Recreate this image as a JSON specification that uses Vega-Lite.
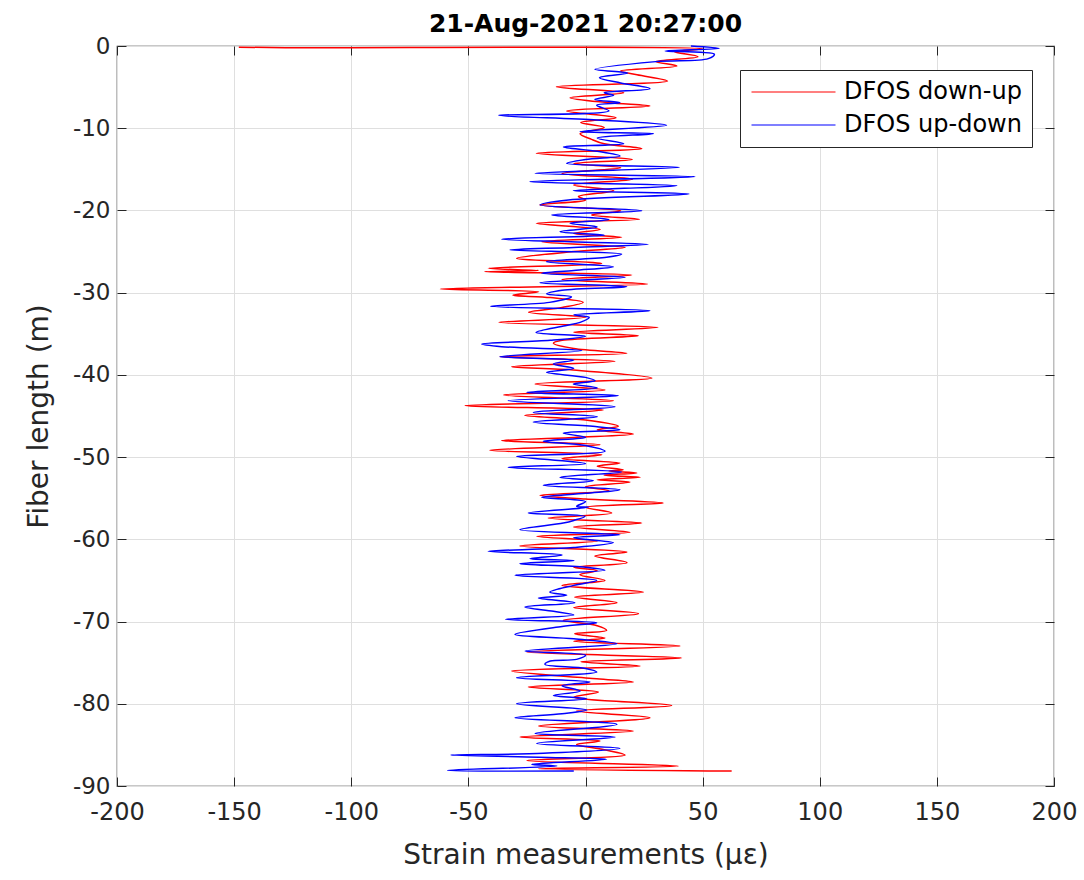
{
"$schema": "https://vega.github.io/schema/vega-lite/v6.json",
"width": 937, "height": 740,
"autosize": {"type": "none"},
"padding": {"left": 117, "top": 46, "right": 30, "bottom": 94},
"background": "white",
"title": {"text": "21-Aug-2021 20:27:00", "font": "DejaVu Sans", "fontSize": 25, "fontWeight": "bold", "color": "#000000", "offset": -2, "anchor": "middle"},
"config": {
  "view": {"stroke": "#262626", "strokeWidth": 1.2},
  "axis": {"labelFont": "DejaVu Sans", "labelFontSize": 24, "labelColor": "#262626", "titleFont": "DejaVu Sans", "titleFontSize": 28, "titleFontWeight": "normal", "titleColor": "#262626", "tickColor": "#262626", "gridColor": "#dfdfdf", "gridWidth": 1, "labelExpr": "'' + datum.value", "labelFlush": false, "labelOverlap": false}
},
"data": {"values": [
{"series":"DFOS down-up","i":0,"len":-0.15,"strain":-148},
{"series":"DFOS down-up","i":1,"len":-0.2,"strain":-128},
{"series":"DFOS down-up","i":2,"len":-0.35,"strain":50},
{"series":"DFOS down-up","i":3,"len":-0.7,"strain":38},
{"series":"DFOS down-up","i":4,"len":-1.3,"strain":48},
{"series":"DFOS down-up","i":5,"len":-1.9,"strain":30},
{"series":"DFOS down-up","i":6,"len":-2.43,"strain":39},
{"series":"DFOS down-up","i":7,"len":-3.04,"strain":15},
{"series":"DFOS down-up","i":8,"len":-3.5,"strain":22},
{"series":"DFOS down-up","i":9,"len":-4.26,"strain":35},
{"series":"DFOS down-up","i":10,"len":-4.95,"strain":-12.4},
{"series":"DFOS down-up","i":11,"len":-5.68,"strain":16.3},
{"series":"DFOS down-up","i":12,"len":-6.29,"strain":-6.6},
{"series":"DFOS down-up","i":13,"len":-6.9,"strain":10},
{"series":"DFOS down-up","i":14,"len":-7.3,"strain":27.5},
{"series":"DFOS down-up","i":15,"len":-7.91,"strain":-8},
{"series":"DFOS down-up","i":16,"len":-8.72,"strain":13},
{"series":"DFOS down-up","i":17,"len":-9.3,"strain":-2},
{"series":"DFOS down-up","i":18,"len":-9.9,"strain":8},
{"series":"DFOS down-up","i":19,"len":-10.66,"strain":-2.3},
{"series":"DFOS down-up","i":20,"len":-11.35,"strain":2.6},
{"series":"DFOS down-up","i":21,"len":-11.9,"strain":8},
{"series":"DFOS down-up","i":22,"len":-12.48,"strain":24},
{"series":"DFOS down-up","i":23,"len":-13.05,"strain":-21},
{"series":"DFOS down-up","i":24,"len":-13.79,"strain":20},
{"series":"DFOS down-up","i":25,"len":-14.3,"strain":-5},
{"series":"DFOS down-up","i":26,"len":-14.8,"strain":15},
{"series":"DFOS down-up","i":27,"len":-15.5,"strain":-10},
{"series":"DFOS down-up","i":28,"len":-16.2,"strain":20},
{"series":"DFOS down-up","i":29,"len":-16.9,"strain":-5},
{"series":"DFOS down-up","i":30,"len":-17.6,"strain":12},
{"series":"DFOS down-up","i":31,"len":-18.3,"strain":-3},
{"series":"DFOS down-up","i":32,"len":-18.73,"strain":0},
{"series":"DFOS down-up","i":33,"len":-19.34,"strain":-19.4},
{"series":"DFOS down-up","i":34,"len":-20.03,"strain":15},
{"series":"DFOS down-up","i":35,"len":-20.55,"strain":2.6},
{"series":"DFOS down-up","i":36,"len":-21.08,"strain":23},
{"series":"DFOS down-up","i":37,"len":-21.57,"strain":-21},
{"series":"DFOS down-up","i":38,"len":-22.3,"strain":6.3},
{"series":"DFOS down-up","i":39,"len":-22.8,"strain":-5},
{"series":"DFOS down-up","i":40,"len":-23.27,"strain":15.4},
{"series":"DFOS down-up","i":41,"len":-23.8,"strain":-18.6},
{"series":"DFOS down-up","i":42,"len":-24.49,"strain":16.9},
{"series":"DFOS down-up","i":43,"len":-25.0,"strain":-5},
{"series":"DFOS down-up","i":44,"len":-25.83,"strain":-29.4},
{"series":"DFOS down-up","i":45,"len":-26.44,"strain":6.9},
{"series":"DFOS down-up","i":46,"len":-27.04,"strain":-41.5},
{"series":"DFOS down-up","i":47,"len":-27.3,"strain":-20},
{"series":"DFOS down-up","i":48,"len":-27.45,"strain":-43},
{"series":"DFOS down-up","i":49,"len":-27.85,"strain":19.7},
{"series":"DFOS down-up","i":50,"len":-28.4,"strain":-10},
{"series":"DFOS down-up","i":51,"len":-28.95,"strain":26.5},
{"series":"DFOS down-up","i":52,"len":-29.55,"strain":-62},
{"series":"DFOS down-up","i":53,"len":-29.9,"strain":-20},
{"series":"DFOS down-up","i":54,"len":-30.3,"strain":-31},
{"series":"DFOS down-up","i":55,"len":-30.6,"strain":-15},
{"series":"DFOS down-up","i":56,"len":-31.18,"strain":-1},
{"series":"DFOS down-up","i":57,"len":-31.8,"strain":-10},
{"series":"DFOS down-up","i":58,"len":-32.39,"strain":-24.3},
{"series":"DFOS down-up","i":59,"len":-33.0,"strain":0},
{"series":"DFOS down-up","i":60,"len":-33.61,"strain":-37},
{"series":"DFOS down-up","i":61,"len":-34.22,"strain":31},
{"series":"DFOS down-up","i":62,"len":-34.8,"strain":-5},
{"series":"DFOS down-up","i":63,"len":-35.23,"strain":22.6},
{"series":"DFOS down-up","i":64,"len":-35.8,"strain":-10},
{"series":"DFOS down-up","i":65,"len":-36.16,"strain":-13.7},
{"series":"DFOS down-up","i":66,"len":-36.8,"strain":-5},
{"series":"DFOS down-up","i":67,"len":-37.38,"strain":17.6},
{"series":"DFOS down-up","i":68,"len":-37.79,"strain":-36.5},
{"series":"DFOS down-up","i":69,"len":-38.35,"strain":12.6},
{"series":"DFOS down-up","i":70,"len":-39.01,"strain":-31.5},
{"series":"DFOS down-up","i":71,"len":-39.41,"strain":-5.2},
{"series":"DFOS down-up","i":72,"len":-40.38,"strain":28.3},
{"series":"DFOS down-up","i":73,"len":-41.11,"strain":-21.5},
{"series":"DFOS down-up","i":74,"len":-41.84,"strain":8.3},
{"series":"DFOS down-up","i":75,"len":-42.45,"strain":-35},
{"series":"DFOS down-up","i":76,"len":-43.14,"strain":11.9},
{"series":"DFOS down-up","i":77,"len":-43.75,"strain":-51.4},
{"series":"DFOS down-up","i":78,"len":-44.27,"strain":7.6},
{"series":"DFOS down-up","i":79,"len":-44.92,"strain":-25.9},
{"series":"DFOS down-up","i":80,"len":-45.5,"strain":0},
{"series":"DFOS down-up","i":81,"len":-46.26,"strain":14},
{"series":"DFOS down-up","i":82,"len":-46.7,"strain":5},
{"series":"DFOS down-up","i":83,"len":-47.19,"strain":20.4},
{"series":"DFOS down-up","i":84,"len":-47.6,"strain":-5},
{"series":"DFOS down-up","i":85,"len":-48.0,"strain":-35.8},
{"series":"DFOS down-up","i":86,"len":-48.49,"strain":6.2},
{"series":"DFOS down-up","i":87,"len":-49.18,"strain":-40.8},
{"series":"DFOS down-up","i":88,"len":-49.7,"strain":6.9},
{"series":"DFOS down-up","i":89,"len":-50.2,"strain":-10},
{"series":"DFOS down-up","i":90,"len":-50.72,"strain":14.7},
{"series":"DFOS down-up","i":91,"len":-51.1,"strain":5},
{"series":"DFOS down-up","i":92,"len":-51.53,"strain":16.1},
{"series":"DFOS down-up","i":93,"len":-51.7,"strain":10},
{"series":"DFOS down-up","i":94,"len":-51.93,"strain":21.9},
{"series":"DFOS down-up","i":95,"len":-52.2,"strain":8},
{"series":"DFOS down-up","i":96,"len":-52.46,"strain":23.3},
{"series":"DFOS down-up","i":97,"len":-52.75,"strain":5},
{"series":"DFOS down-up","i":98,"len":-53.03,"strain":19},
{"series":"DFOS down-up","i":99,"len":-53.6,"strain":0},
{"series":"DFOS down-up","i":100,"len":-54.1,"strain":10},
{"series":"DFOS down-up","i":101,"len":-54.65,"strain":-19.4},
{"series":"DFOS down-up","i":102,"len":-55.1,"strain":0},
{"series":"DFOS down-up","i":103,"len":-55.58,"strain":33.2},
{"series":"DFOS down-up","i":104,"len":-56.1,"strain":0},
{"series":"DFOS down-up","i":105,"len":-56.8,"strain":11.2},
{"series":"DFOS down-up","i":106,"len":-57.41,"strain":-15.9},
{"series":"DFOS down-up","i":107,"len":-58.02,"strain":24},
{"series":"DFOS down-up","i":108,"len":-58.5,"strain":-5},
{"series":"DFOS down-up","i":109,"len":-59.15,"strain":19},
{"series":"DFOS down-up","i":110,"len":-59.64,"strain":-20.8},
{"series":"DFOS down-up","i":111,"len":-60.2,"strain":5},
{"series":"DFOS down-up","i":112,"len":-60.81,"strain":-28},
{"series":"DFOS down-up","i":113,"len":-61.54,"strain":17.7},
{"series":"DFOS down-up","i":114,"len":-62.03,"strain":4},
{"series":"DFOS down-up","i":115,"len":-62.84,"strain":17.7},
{"series":"DFOS down-up","i":116,"len":-63.4,"strain":-5},
{"series":"DFOS down-up","i":117,"len":-63.8,"strain":5},
{"series":"DFOS down-up","i":118,"len":-64.3,"strain":-2.4},
{"series":"DFOS down-up","i":119,"len":-64.99,"strain":8.3},
{"series":"DFOS down-up","i":120,"len":-65.6,"strain":-10},
{"series":"DFOS down-up","i":121,"len":-66.42,"strain":24.7},
{"series":"DFOS down-up","i":122,"len":-67.02,"strain":-4.6},
{"series":"DFOS down-up","i":123,"len":-67.7,"strain":13.4},
{"series":"DFOS down-up","i":124,"len":-68.3,"strain":-5},
{"series":"DFOS down-up","i":125,"len":-69.04,"strain":22.6},
{"series":"DFOS down-up","i":126,"len":-69.85,"strain":-9.5},
{"series":"DFOS down-up","i":127,"len":-70.5,"strain":5},
{"series":"DFOS down-up","i":128,"len":-71.07,"strain":9},
{"series":"DFOS down-up","i":129,"len":-71.48,"strain":-4.6},
{"series":"DFOS down-up","i":130,"len":-72.01,"strain":8.3},
{"series":"DFOS down-up","i":131,"len":-72.4,"strain":-5},
{"series":"DFOS down-up","i":132,"len":-72.98,"strain":40.3},
{"series":"DFOS down-up","i":133,"len":-73.71,"strain":-25},
{"series":"DFOS down-up","i":134,"len":-74.42,"strain":41},
{"series":"DFOS down-up","i":135,"len":-74.9,"strain":-2},
{"series":"DFOS down-up","i":136,"len":-75.41,"strain":23.3},
{"series":"DFOS down-up","i":137,"len":-76.02,"strain":-31.5},
{"series":"DFOS down-up","i":138,"len":-76.95,"strain":4.8},
{"series":"DFOS down-up","i":139,"len":-77.36,"strain":20.4},
{"series":"DFOS down-up","i":140,"len":-77.96,"strain":-24.4},
{"series":"DFOS down-up","i":141,"len":-78.57,"strain":5.5},
{"series":"DFOS down-up","i":142,"len":-79.2,"strain":-5},
{"series":"DFOS down-up","i":143,"len":-80.2,"strain":36.8},
{"series":"DFOS down-up","i":144,"len":-80.89,"strain":-3.8},
{"series":"DFOS down-up","i":145,"len":-81.7,"strain":27.5},
{"series":"DFOS down-up","i":146,"len":-82.71,"strain":-20},
{"series":"DFOS down-up","i":147,"len":-83.32,"strain":20.4},
{"series":"DFOS down-up","i":148,"len":-84.05,"strain":-28},
{"series":"DFOS down-up","i":149,"len":-84.53,"strain":6.2},
{"series":"DFOS down-up","i":150,"len":-84.94,"strain":-3.8},
{"series":"DFOS down-up","i":151,"len":-85.6,"strain":8},
{"series":"DFOS down-up","i":152,"len":-86.24,"strain":16.9},
{"series":"DFOS down-up","i":153,"len":-86.89,"strain":-25},
{"series":"DFOS down-up","i":154,"len":-87.57,"strain":39.6},
{"series":"DFOS down-up","i":155,"len":-87.9,"strain":-20},
{"series":"DFOS down-up","i":156,"len":-88.18,"strain":62.4},
{"series":"DFOS up-down","i":0,"len":0.0,"strain":45},
{"series":"DFOS up-down","i":1,"len":-0.3,"strain":57},
{"series":"DFOS up-down","i":2,"len":-0.6,"strain":34},
{"series":"DFOS up-down","i":3,"len":-1.0,"strain":55},
{"series":"DFOS up-down","i":4,"len":-1.54,"strain":52.4},
{"series":"DFOS up-down","i":5,"len":-1.9,"strain":30},
{"series":"DFOS up-down","i":6,"len":-2.84,"strain":4},
{"series":"DFOS up-down","i":7,"len":-3.3,"strain":18},
{"series":"DFOS up-down","i":8,"len":-3.85,"strain":6},
{"series":"DFOS up-down","i":9,"len":-4.5,"strain":15},
{"series":"DFOS up-down","i":10,"len":-5.19,"strain":27.5},
{"series":"DFOS up-down","i":11,"len":-5.68,"strain":8},
{"series":"DFOS up-down","i":12,"len":-6.0,"strain":12},
{"series":"DFOS up-down","i":13,"len":-6.5,"strain":4},
{"series":"DFOS up-down","i":14,"len":-6.89,"strain":14.7},
{"series":"DFOS up-down","i":15,"len":-7.2,"strain":4.8},
{"series":"DFOS up-down","i":16,"len":-7.9,"strain":10},
{"series":"DFOS up-down","i":17,"len":-8.43,"strain":-37},
{"series":"DFOS up-down","i":18,"len":-9.0,"strain":5},
{"series":"DFOS up-down","i":19,"len":-9.65,"strain":34.6},
{"series":"DFOS up-down","i":20,"len":-10.42,"strain":-2.3},
{"series":"DFOS up-down","i":21,"len":-10.66,"strain":29},
{"series":"DFOS up-down","i":22,"len":-11.2,"strain":5},
{"series":"DFOS up-down","i":23,"len":-11.88,"strain":16.3},
{"series":"DFOS up-down","i":24,"len":-12.28,"strain":-9.4},
{"series":"DFOS up-down","i":25,"len":-12.8,"strain":5},
{"series":"DFOS up-down","i":26,"len":-13.38,"strain":14.7},
{"series":"DFOS up-down","i":27,"len":-13.8,"strain":0},
{"series":"DFOS up-down","i":28,"len":-14.27,"strain":-8},
{"series":"DFOS up-down","i":29,"len":-14.76,"strain":40},
{"series":"DFOS up-down","i":30,"len":-15.49,"strain":-21.5},
{"series":"DFOS up-down","i":31,"len":-15.89,"strain":46.7},
{"series":"DFOS up-down","i":32,"len":-16.5,"strain":-23.7},
{"series":"DFOS up-down","i":33,"len":-16.99,"strain":39},
{"series":"DFOS up-down","i":34,"len":-17.6,"strain":-5.2},
{"series":"DFOS up-down","i":35,"len":-18.0,"strain":44.2},
{"series":"DFOS up-down","i":36,"len":-18.73,"strain":-7.3},
{"series":"DFOS up-down","i":37,"len":-19.34,"strain":-19.4},
{"series":"DFOS up-down","i":38,"len":-20.03,"strain":24},
{"series":"DFOS up-down","i":39,"len":-20.55,"strain":-14.4},
{"series":"DFOS up-down","i":40,"len":-21.1,"strain":10},
{"series":"DFOS up-down","i":41,"len":-21.57,"strain":-6.6},
{"series":"DFOS up-down","i":42,"len":-22.0,"strain":5},
{"series":"DFOS up-down","i":43,"len":-22.58,"strain":-10.9},
{"series":"DFOS up-down","i":44,"len":-23.0,"strain":8},
{"series":"DFOS up-down","i":45,"len":-23.51,"strain":-35.8},
{"series":"DFOS up-down","i":46,"len":-24.12,"strain":26.8},
{"series":"DFOS up-down","i":47,"len":-24.5,"strain":-5},
{"series":"DFOS up-down","i":48,"len":-24.81,"strain":-32.2},
{"series":"DFOS up-down","i":49,"len":-25.3,"strain":15.4},
{"series":"DFOS up-down","i":50,"len":-25.7,"strain":9},
{"series":"DFOS up-down","i":51,"len":-26.23,"strain":-16.6},
{"series":"DFOS up-down","i":52,"len":-26.84,"strain":11.9},
{"series":"DFOS up-down","i":53,"len":-27.3,"strain":-5},
{"series":"DFOS up-down","i":54,"len":-27.65,"strain":-18.7},
{"series":"DFOS up-down","i":55,"len":-28.13,"strain":16.9},
{"series":"DFOS up-down","i":56,"len":-28.78,"strain":-19.4},
{"series":"DFOS up-down","i":57,"len":-29.27,"strain":17.6},
{"series":"DFOS up-down","i":58,"len":-29.7,"strain":-10},
{"series":"DFOS up-down","i":59,"len":-30.16,"strain":-16.6},
{"series":"DFOS up-down","i":60,"len":-30.5,"strain":-6},
{"series":"DFOS up-down","i":61,"len":-31.18,"strain":-15.4},
{"series":"DFOS up-down","i":62,"len":-31.66,"strain":-40.5},
{"series":"DFOS up-down","i":63,"len":-32.19,"strain":27.5},
{"series":"DFOS up-down","i":64,"len":-32.7,"strain":-5},
{"series":"DFOS up-down","i":65,"len":-33.0,"strain":1.6},
{"series":"DFOS up-down","i":66,"len":-33.61,"strain":-2.3},
{"series":"DFOS up-down","i":67,"len":-34.02,"strain":-8.7},
{"series":"DFOS up-down","i":68,"len":-34.83,"strain":-21.1},
{"series":"DFOS up-down","i":69,"len":-35.3,"strain":0},
{"series":"DFOS up-down","i":70,"len":-35.8,"strain":-15},
{"series":"DFOS up-down","i":71,"len":-36.24,"strain":-44.3},
{"series":"DFOS up-down","i":72,"len":-36.57,"strain":-35.8},
{"series":"DFOS up-down","i":73,"len":-37.05,"strain":-1.6},
{"series":"DFOS up-down","i":74,"len":-37.79,"strain":-36.5},
{"series":"DFOS up-down","i":75,"len":-38.2,"strain":-5},
{"series":"DFOS up-down","i":76,"len":-38.68,"strain":-13.7},
{"series":"DFOS up-down","i":77,"len":-39.2,"strain":-5},
{"series":"DFOS up-down","i":78,"len":-39.69,"strain":-16.6},
{"series":"DFOS up-down","i":79,"len":-40.3,"strain":0},
{"series":"DFOS up-down","i":80,"len":-40.7,"strain":4.1},
{"series":"DFOS up-down","i":81,"len":-41.11,"strain":-5.2},
{"series":"DFOS up-down","i":82,"len":-41.6,"strain":5},
{"series":"DFOS up-down","i":83,"len":-42.13,"strain":-25},
{"series":"DFOS up-down","i":84,"len":-42.53,"strain":14},
{"series":"DFOS up-down","i":85,"len":-43.14,"strain":-33},
{"series":"DFOS up-down","i":86,"len":-43.87,"strain":12.6},
{"series":"DFOS up-down","i":87,"len":-44.56,"strain":-22.3},
{"series":"DFOS up-down","i":88,"len":-45.1,"strain":5},
{"series":"DFOS up-down","i":89,"len":-45.73,"strain":-22.3},
{"series":"DFOS up-down","i":90,"len":-46.3,"strain":5},
{"series":"DFOS up-down","i":91,"len":-46.67,"strain":14.7},
{"series":"DFOS up-down","i":92,"len":-47.07,"strain":-9.5},
{"series":"DFOS up-down","i":93,"len":-47.6,"strain":0},
{"series":"DFOS up-down","i":94,"len":-48.08,"strain":-18},
{"series":"DFOS up-down","i":95,"len":-48.6,"strain":0},
{"series":"DFOS up-down","i":96,"len":-49.3,"strain":8.3},
{"series":"DFOS up-down","i":97,"len":-49.91,"strain":-29.4},
{"series":"DFOS up-down","i":98,"len":-50.31,"strain":-15},
{"series":"DFOS up-down","i":99,"len":-50.8,"strain":0},
{"series":"DFOS up-down","i":100,"len":-51.25,"strain":-33},
{"series":"DFOS up-down","i":101,"len":-51.81,"strain":15.4},
{"series":"DFOS up-down","i":102,"len":-52.46,"strain":-10.9},
{"series":"DFOS up-down","i":103,"len":-52.87,"strain":3.3},
{"series":"DFOS up-down","i":104,"len":-53.43,"strain":-18},
{"series":"DFOS up-down","i":105,"len":-53.96,"strain":14.7},
{"series":"DFOS up-down","i":106,"len":-54.4,"strain":0},
{"series":"DFOS up-down","i":107,"len":-54.89,"strain":-18.7},
{"series":"DFOS up-down","i":108,"len":-55.4,"strain":0},
{"series":"DFOS up-down","i":109,"len":-55.99,"strain":-3.8},
{"series":"DFOS up-down","i":110,"len":-56.11,"strain":1.2},
{"series":"DFOS up-down","i":111,"len":-56.8,"strain":-24.4},
{"series":"DFOS up-down","i":112,"len":-57.21,"strain":-0.2},
{"series":"DFOS up-down","i":113,"len":-57.7,"strain":-5},
{"series":"DFOS up-down","i":114,"len":-58.02,"strain":-9.5},
{"series":"DFOS up-down","i":115,"len":-58.83,"strain":-28},
{"series":"DFOS up-down","i":116,"len":-59.43,"strain":14.7},
{"series":"DFOS up-down","i":117,"len":-59.8,"strain":-5},
{"series":"DFOS up-down","i":118,"len":-60.4,"strain":11.9},
{"series":"DFOS up-down","i":119,"len":-61.0,"strain":-5},
{"series":"DFOS up-down","i":120,"len":-61.46,"strain":-41.5},
{"series":"DFOS up-down","i":121,"len":-61.9,"strain":-10},
{"series":"DFOS up-down","i":122,"len":-62.35,"strain":-23.7},
{"series":"DFOS up-down","i":123,"len":-62.6,"strain":-5},
{"series":"DFOS up-down","i":124,"len":-62.96,"strain":-28},
{"series":"DFOS up-down","i":125,"len":-63.4,"strain":0},
{"series":"DFOS up-down","i":126,"len":-63.77,"strain":8.3},
{"series":"DFOS up-down","i":127,"len":-64.38,"strain":-30.1},
{"series":"DFOS up-down","i":128,"len":-64.99,"strain":4.8},
{"series":"DFOS up-down","i":129,"len":-65.6,"strain":-5},
{"series":"DFOS up-down","i":130,"len":-66.42,"strain":-15.2},
{"series":"DFOS up-down","i":131,"len":-66.8,"strain":-8},
{"series":"DFOS up-down","i":132,"len":-67.14,"strain":-20.1},
{"series":"DFOS up-down","i":133,"len":-67.7,"strain":-4.6},
{"series":"DFOS up-down","i":134,"len":-68.24,"strain":-25.8},
{"series":"DFOS up-down","i":135,"len":-68.76,"strain":-13.7},
{"series":"DFOS up-down","i":136,"len":-69.2,"strain":-5},
{"series":"DFOS up-down","i":137,"len":-69.73,"strain":-34.1},
{"series":"DFOS up-down","i":138,"len":-70.14,"strain":4.8},
{"series":"DFOS up-down","i":139,"len":-70.6,"strain":-10},
{"series":"DFOS up-down","i":140,"len":-71.56,"strain":-30.1},
{"series":"DFOS up-down","i":141,"len":-72.1,"strain":-5},
{"series":"DFOS up-down","i":142,"len":-72.7,"strain":13.4},
{"series":"DFOS up-down","i":143,"len":-73.59,"strain":-25.8},
{"series":"DFOS up-down","i":144,"len":-74.1,"strain":0},
{"series":"DFOS up-down","i":145,"len":-74.6,"strain":-3.8},
{"series":"DFOS up-down","i":146,"len":-74.8,"strain":-15},
{"series":"DFOS up-down","i":147,"len":-75.2,"strain":-17.3},
{"series":"DFOS up-down","i":148,"len":-75.7,"strain":0},
{"series":"DFOS up-down","i":149,"len":-76.14,"strain":4.8},
{"series":"DFOS up-down","i":150,"len":-76.83,"strain":-29.4},
{"series":"DFOS up-down","i":151,"len":-77.36,"strain":1.9},
{"series":"DFOS up-down","i":152,"len":-77.8,"strain":-10},
{"series":"DFOS up-down","i":153,"len":-78.45,"strain":-2.3},
{"series":"DFOS up-down","i":154,"len":-78.98,"strain":-13.7},
{"series":"DFOS up-down","i":155,"len":-79.39,"strain":0.5},
{"series":"DFOS up-down","i":156,"len":-80.0,"strain":-29.4},
{"series":"DFOS up-down","i":157,"len":-80.76,"strain":0.5},
{"series":"DFOS up-down","i":158,"len":-81.2,"strain":-10},
{"series":"DFOS up-down","i":159,"len":-81.7,"strain":-30.1},
{"series":"DFOS up-down","i":160,"len":-82.51,"strain":13.4},
{"series":"DFOS up-down","i":161,"len":-83.6,"strain":-21.5},
{"series":"DFOS up-down","i":162,"len":-84.05,"strain":12.6},
{"series":"DFOS up-down","i":163,"len":-84.82,"strain":-20.8},
{"series":"DFOS up-down","i":164,"len":-85.42,"strain":14.7},
{"series":"DFOS up-down","i":165,"len":-86.03,"strain":-18},
{"series":"DFOS up-down","i":166,"len":-86.24,"strain":-57.5},
{"series":"DFOS up-down","i":167,"len":-86.5,"strain":-20},
{"series":"DFOS up-down","i":168,"len":-86.76,"strain":9},
{"series":"DFOS up-down","i":169,"len":-87.37,"strain":-22.9},
{"series":"DFOS up-down","i":170,"len":-87.57,"strain":-12.2},
{"series":"DFOS up-down","i":171,"len":-88.1,"strain":-58.9},
{"series":"DFOS up-down","i":172,"len":-88.18,"strain":-5}
]},
"layer": [
  {
    "mark": {"type": "line", "strokeWidth": 1.5, "interpolate": "catmull-rom"},
    "encoding": {
      "x": {"field": "strain", "type": "quantitative", "scale": {"domain": [-200, 200], "nice": false, "zero": false},
            "axis": {"title": "Strain measurements (με)", "values": [-200,-150,-100,-50,0,50,100,150,200], "grid": true, "domain": false, "tickSize": -9, "labelPadding": 23, "titlePadding": 17}},
      "y": {"field": "len", "type": "quantitative", "scale": {"domain": [-90, 0], "nice": false, "zero": false},
            "axis": {"title": "Fiber length (m)", "values": [0,-10,-20,-30,-40,-50,-60,-70,-80,-90], "grid": true, "domain": false, "tickSize": -9, "labelPadding": 16, "titlePadding": 19, "labelFontSize": 23}},
      "color": {"field": "series", "type": "nominal", "scale": {"domain": ["DFOS down-up", "DFOS up-down"], "range": ["#ff0000", "#0000ff"]},
                "legend": {"title": null, "orient": "none", "legendX": 623, "legendY": 24, "symbolType": "M-1,0H7", "symbolSize": 441, "symbolStrokeWidth": 1.2, "labelFont": "DejaVu Sans", "labelFontSize": 24, "labelColor": "#000000", "labelOffset": 70, "labelLimit": 400, "padding": 10, "rowPadding": 9, "strokeColor": "#262626", "fillColor": "white"}},
      "order": {"field": "i", "type": "quantitative"}
    }
  },
  {
    "mark": {"type": "point", "opacity": 0},
    "encoding": {
      "x": {"field": "strain", "type": "quantitative", "axis": {"orient": "top", "title": null, "values": [-200,-150,-100,-50,0,50,100,150,200], "labels": false, "grid": false, "domain": false, "tickSize": -9}},
      "y": {"field": "len", "type": "quantitative", "axis": {"orient": "right", "title": null, "values": [0,-10,-20,-30,-40,-50,-60,-70,-80,-90], "labels": false, "grid": false, "domain": false, "tickSize": -9}}
    }
  }
],
"resolve": {"axis": {"x": "independent", "y": "independent"}}
}
